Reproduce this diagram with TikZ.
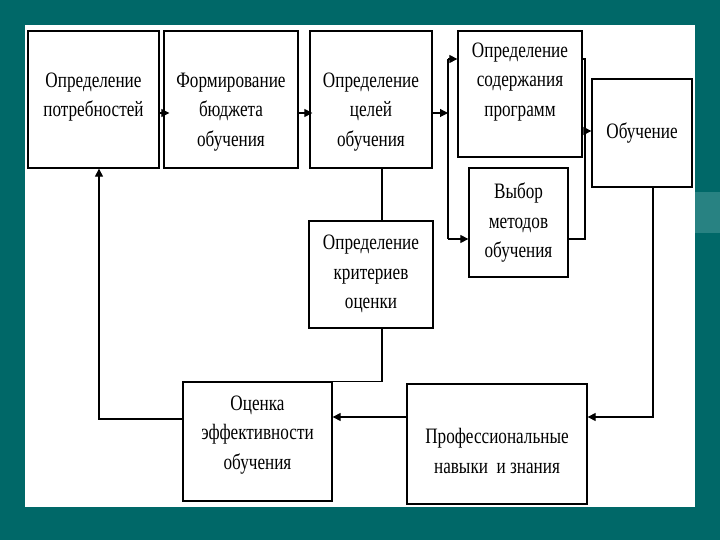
\documentclass[tikz,border=0pt]{standalone}
\usepackage{fontspec}
\setmainfont{Liberation Serif}[FakeStretch=0.78]
\usetikzlibrary{arrows.meta}
\definecolor{bgteal}{RGB}{0,104,104}
\definecolor{bgband}{RGB}{40,130,130}
\begin{document}
\begin{tikzpicture}[x=1pt,y=-1pt]
\tikzstyle{box}=[draw, rectangle, line width=1.3pt, inner sep=0pt]
\tikzstyle{txt}=[align=center, inner sep=0pt, font=\fontsize{22}{29.5}\selectfont]
\tikzstyle{arrow}=[-{Triangle[length=8pt,width=8pt]}, draw, line width=1.1pt]
\tikzstyle{line}=[draw, line width=1.1pt]
\useasboundingbox (0,0) rectangle (720,540);
\fill[bgteal] (0,0) rectangle (720,540);
\fill[bgband] (695,192) rectangle (720,233);
\fill[white] (25,25) rectangle (695,507);

\node[box, minimum width=131, minimum height=137] (b1) at (93.5,99.5) {};
\node[box, minimum width=134, minimum height=137] (b2) at (231,99.5) {};
\node[box, minimum width=122, minimum height=137] (b3) at (371,99.5) {};
\node[box, minimum width=124, minimum height=126] (b4) at (520,94) {};
\node[box, minimum width=99, minimum height=109] (b5) at (518.5,222.5) {};
\node[box, minimum width=100, minimum height=108] (b6) at (642,133) {};
\node[box, minimum width=124, minimum height=107] (b7) at (371,274.5) {};
\node[box, minimum width=149, minimum height=119] (b8) at (257.5,441.5) {};
\node[box, minimum width=180, minimum height=120] (b9) at (497,444) {};

\node[txt] (t1) at (93.5,97) {Определение\\потребностей};
\node[txt] (t2) at (231,112) {Формирование\\бюджета\\обучения};
\node[txt] (t3) at (371,112) {Определение\\целей\\обучения};
\node[txt] (t4) at (520,82) {Определение\\содержания\\программ};
\node[txt] (t5) at (518.5,223) {Выбор\\методов\\обучения};
\node[txt] (t6) at (642,133) {Обучение};
\node[txt] (t7) at (371,274) {Определение\\критериев\\оценки};
\node[txt] (t8) at (257.5,435) {Оценка\\эффективности\\обучения};
\node[txt] (t9) at (497,451) {Профессиональные\\навыки\ \ и знания};

\coordinate (row) at (0,113);
\coordinate (fork) at (448,113);
\coordinate (f1) at (448,59);
\coordinate (f2) at (448,239);
\coordinate (m1) at (585,59);
\coordinate (m2) at (585,239);
\coordinate (m) at (585,131);
\coordinate (d) at (653,417);
\coordinate (l) at (99,419);
\coordinate (c) at (382,382);
\coordinate (e) at (320,382);

\draw[arrow, shorten >=-6pt] (b1.east |- row) -- (b2.west |- row);
\draw[arrow, shorten >=-3pt] (b2.east |- row) -- (b3.west |- row);
\draw[arrow] (b3.east |- row) -- (fork);
\draw[line] (f1) -- (f2);
\draw[arrow] (f1) -- (b4.west |- f1);
\draw[arrow] (f2) -- (b5.west |- f2);
\draw[line] (b4.east |- m1) -- (m1) -- (m2) -- (b5.east |- m2);
\draw[arrow] (m) -- (b6.west |- m);
\draw[arrow] (b6.south -| d) |- (b9.east |- d);
\draw[arrow] (b9.west |- d) -- (b8.east |- d);
\draw[arrow] (b8.west |- l) -| (b1.south -| l);
\draw[line] (b3.south -| c) -- (b7.north -| c);
\draw[line] (b7.south -| c) |- (b8.north -| e);
\end{tikzpicture}
\end{document}
